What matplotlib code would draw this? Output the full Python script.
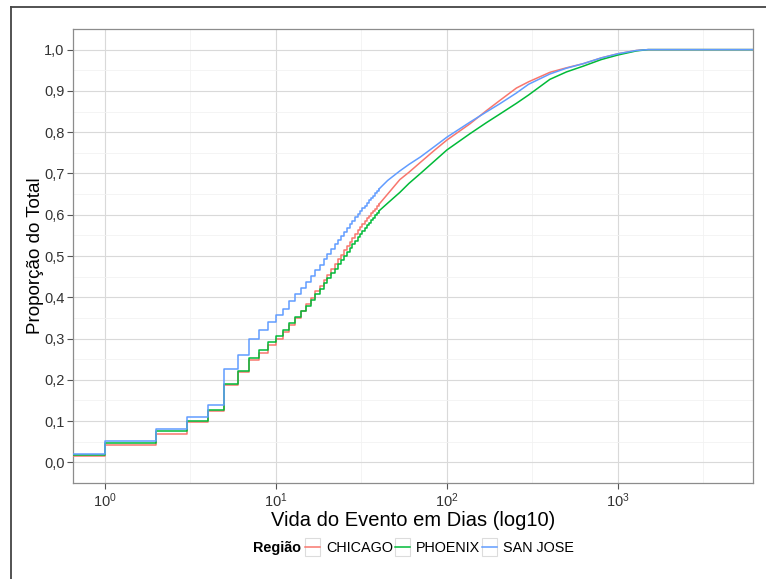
import numpy as np
import matplotlib
matplotlib.use("Agg")
import matplotlib.pyplot as plt
from matplotlib.lines import Line2D
from matplotlib.patches import Rectangle
from matplotlib.legend_handler import HandlerLine2D
from matplotlib.ticker import FixedLocator, FuncFormatter

plt.rcParams["font.family"] = ["Liberation Sans", "DejaVu Sans"]
plt.rcParams["mathtext.default"] = "regular"

# empirical CDF, one value per whole day (0.5 stands for events shorter than 1 day)
step_days = [0.5] + list(range(1, 41))
chicago_steps = [0.016, 0.042, 0.069, 0.099, 0.125, 0.187, 0.219, 0.248, 0.266, 0.284,
                 0.300, 0.316, 0.333, 0.350, 0.366, 0.383, 0.399, 0.414, 0.428, 0.442,
                 0.455, 0.468, 0.480, 0.492, 0.503, 0.514, 0.524, 0.534, 0.544, 0.553,
                 0.562, 0.570, 0.578, 0.585, 0.591, 0.597, 0.603, 0.609, 0.614, 0.620, 0.625]
phoenix_steps = [0.018, 0.047, 0.075, 0.101, 0.127, 0.191, 0.221, 0.254, 0.273, 0.291,
                 0.306, 0.321, 0.337, 0.352, 0.366, 0.380, 0.394, 0.408, 0.421, 0.434,
                 0.446, 0.458, 0.469, 0.480, 0.490, 0.500, 0.510, 0.519, 0.528, 0.537,
                 0.545, 0.553, 0.561, 0.568, 0.575, 0.581, 0.587, 0.593, 0.599, 0.604, 0.609]
sanjose_steps = [0.020, 0.051, 0.081, 0.109, 0.138, 0.227, 0.259, 0.299, 0.320, 0.340,
                 0.356, 0.372, 0.391, 0.408, 0.423, 0.438, 0.452, 0.466, 0.479, 0.492,
                 0.505, 0.517, 0.528, 0.539, 0.549, 0.559, 0.568, 0.577, 0.586, 0.594,
                 0.602, 0.609, 0.616, 0.622, 0.629, 0.635, 0.641, 0.646, 0.652, 0.657, 0.662]

# longer lifetimes, where the daily steps are too fine to see
tail_days = [40, 45, 53, 60, 70, 85, 100, 136, 170, 204, 255, 300, 400, 500, 627, 800,
             1000, 1285, 1500, 10000]
chicago_tail = [0.625, 0.650, 0.685, 0.703, 0.727, 0.757, 0.781, 0.820, 0.852, 0.877,
                0.907, 0.922, 0.945, 0.956, 0.966, 0.980, 0.990, 0.998, 1.0, 1.0]
phoenix_tail = [0.609, 0.628, 0.654, 0.676, 0.700, 0.731, 0.757, 0.796, 0.823, 0.844,
                0.870, 0.890, 0.928, 0.946, 0.960, 0.976, 0.987, 0.997, 1.0, 1.0]
sanjose_tail = [0.662, 0.683, 0.706, 0.722, 0.740, 0.766, 0.788, 0.824, 0.849, 0.869,
                0.895, 0.916, 0.941, 0.955, 0.966, 0.980, 0.990, 0.998, 1.0, 1.0]

regions = ["CHICAGO", "PHOENIX", "SAN JOSE"]
colors = ["#F8766D", "#00BA38", "#619CFF"]
steps = [chicago_steps, phoenix_steps, sanjose_steps]
tails = [chicago_tail, phoenix_tail, sanjose_tail]

W, H = 766, 579
fig = plt.figure(figsize=(W / 100, H / 100), dpi=100)
ax = fig.add_axes([73 / W, 1 - 483 / H, 680 / W, 454 / H])

handles = []
for name, col, st, tv in zip(regions, colors, steps, tails):
    ax.step(step_days, st, where="post", color=col, lw=1.1, zorder=3)
    ax.plot(tail_days, tv, color=col, lw=1.1, zorder=3)
    handles.append(Line2D([], [], color=col, lw=1.1, label=name))

ax.set_xscale("log")
ax.set_xlim(10 ** -0.187, 10 ** 3.79)
ax.set_ylim(-0.05, 1.05)

ax.xaxis.set_major_locator(FixedLocator([1, 10, 100, 1000]))
ax.xaxis.set_minor_locator(FixedLocator([10 ** 0.5, 10 ** 1.5, 10 ** 2.5, 10 ** 3.5]))
ax.xaxis.set_major_formatter(FuncFormatter(lambda v, p: r"$10^{%d}$" % round(np.log10(v))))
ax.xaxis.set_minor_formatter(FuncFormatter(lambda v, p: ""))
yt = np.round(np.arange(0, 1.01, 0.1), 1)
ax.set_yticks(yt)
ax.set_yticklabels([f"{v:.1f}".replace(".", ",") for v in yt])
ax.yaxis.set_minor_locator(FixedLocator(np.arange(-0.05, 1.06, 0.1)))

ax.grid(which="major", color="#d9d9d9", lw=0.8)
ax.grid(which="minor", color="#f2f2f2", lw=0.6)
ax.set_axisbelow(True)
for s in ax.spines.values():
    s.set_color("#8c8c8c")
    s.set_linewidth(0.9)
ax.tick_params(which="major", length=4, width=0.8, color="#555555",
               labelsize=10.5, labelcolor="#333333", pad=2)
ax.tick_params(which="minor", length=0)

ax.set_xlabel("Vida do Evento em Dias (log10)", fontsize=14.5, labelpad=0.5)
ax.set_ylabel("Proporção do Total", fontsize=13.5, labelpad=0)


class BoxedKey(HandlerLine2D):
    def create_artists(self, legend, orig_handle, xdescent, ydescent,
                       width, height, fontsize, trans):
        arts = super().create_artists(legend, orig_handle, xdescent, ydescent,
                                      width, height, fontsize, trans)
        box = Rectangle((-xdescent, -ydescent - 3), width, height + 6,
                        facecolor="white", edgecolor="#dcdcdc", lw=0.8, transform=trans)
        return [box] + arts


leg = fig.legend(handles=handles, loc="center left", bbox_to_anchor=(305 / W, 1 - 548 / H),
                 ncol=3, frameon=False, fontsize=10.4, handlelength=1.05,
                 handletextpad=0.4, columnspacing=0.12, borderpad=0, borderaxespad=0,
                 handler_map={Line2D: BoxedKey()})
fig.text(301 / W, 1 - 548 / H, "Região", fontsize=10.4, fontweight="bold",
         ha="right", va="center")

# outer frame around the whole graphic
fig.add_artist(Line2D([11 / W, 11 / W], [1 - 7 / H, 0], transform=fig.transFigure,
                      color="#444444", lw=1.3))
fig.add_artist(Line2D([11 / W, 1], [1 - 7 / H, 1 - 7 / H], transform=fig.transFigure,
                      color="#444444", lw=1.3))

fig.savefig("out.png", dpi=100)
